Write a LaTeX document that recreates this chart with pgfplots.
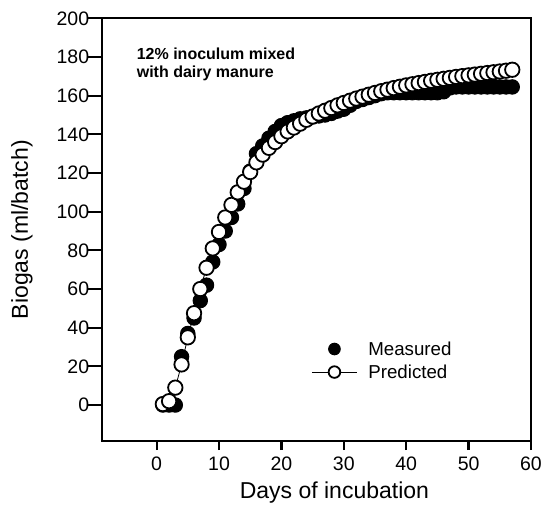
\documentclass[border=0pt]{standalone}
\usepackage{fontspec}
\setmainfont{Liberation Sans}
\usepackage{pgfplots}
\pgfplotsset{compat=1.18}
\pgfplotstableread{
day val
1 0
2 0
3 0
4 25
5 37
6 45
7 54
8 62
9 74
10 83
11 90
12 97
13 104
14 112
15 121
16 130
17 134
18 138
19 141.5
20 144.5
21 146
22 147
23 148
24 148.5
25 149
26 149.5
27 150
28 150.8
29 152
30 153
31 155
32 157
33 158
34 159
35 160
36 161
37 161.5
38 161.5
39 161.5
40 161.5
41 161.5
42 161.5
43 161.5
44 161.5
45 161.5
46 162
47 164
48 164.5
49 164.5
50 164.5
51 164.5
52 164.5
53 164.5
54 164.5
55 164.5
56 164.5
57 164.5
}\measured
\pgfplotstableread{
day val
1 0.5
2 2
3 9
4 21
5 35
6 47.5
7 60
8 71
9 81
10 89.5
11 97
12 103.5
13 110
14 115.5
15 120.5
16 125.5
17 129.5
18 133
19 136
20 139
21 141.5
22 143.5
23 145.5
24 147.5
25 149.2
26 150.8
27 152.2
28 153.6
29 155
30 156.2
31 157.4
32 158.5
33 159.5
34 160.5
35 161.4
36 162.3
37 163.1
38 163.9
39 164.6
40 165.3
41 165.9
42 166.5
43 167.1
44 167.7
45 168.2
46 168.7
47 169.2
48 169.7
49 170.1
50 170.5
51 170.9
52 171.3
53 171.7
54 172.1
55 172.5
56 172.9
57 173.4
}\predicted
\begin{document}
\begin{tikzpicture}
\path[use as bounding box] (-101.7pt,-66pt) rectangle (440.3pt,441pt);
\begin{axis}[
  scale only axis,
  width=429.3pt, height=422.7pt,
  xmin=-8.8, xmax=60, ymin=-18.6, ymax=200,
  clip=false,
  axis line style={line width=2.2pt},
  tick pos=left, tick align=outside,
  major tick length=9pt,
  tick style={line width=2.2pt, black},
  ytick style={/pgfplots/major tick length=14pt},
  xtick={0,10,...,60}, ytick={0,20,...,200},
  /pgf/number format/assume math mode=true,
  ticklabel style={font=\fontsize{19.5}{23}\selectfont},
  xticklabel style={yshift=-3pt},
  xlabel={Days of incubation},
  ylabel={Biogas (ml/batch)},
  label style={font=\fontsize{23}{27}\selectfont},
  xlabel style={at={(axis description cs:0.542,-0.123)}, anchor=center},
  ylabel style={at={(axis description cs:-0.186,0.5)}, anchor=center, rotate=0},
  legend image code/.code={\draw[mark repeat=2,mark phase=2,#1] plot coordinates {(0pt,0pt) (22.5pt,0pt) (45pt,0pt)};},
  legend image post style={mark size=5.8pt},
  legend style={draw=none, fill=none, at={(axis cs:24.8,34.0)}, anchor=north west,
    font=\fontsize{18.7}{22}\selectfont, inner sep=0pt,
    nodes={inner sep=2pt}, row sep=4pt, column sep=9pt},
  legend cell align=left,
]
\addplot[only marks, mark=*, mark size=7.2pt, mark options={fill=black, draw=black, line width=1pt}] table[x=day,y=val] {\measured};
\addlegendentry{Measured}
\addplot[black, line width=0.8pt, mark=*, mark size=7.2pt, mark options={fill=white, draw=black, line width=1.8pt}] table[x=day,y=val] {\predicted};
\addlegendentry{Predicted}
\node[anchor=north west, align=left, inner sep=0pt, font=\fontsize{16}{18.3}\selectfont\bfseries] at (axis cs:-3.2,185) {12\% inoculum mixed\\with dairy manure};
\end{axis}
\end{tikzpicture}
\end{document}
